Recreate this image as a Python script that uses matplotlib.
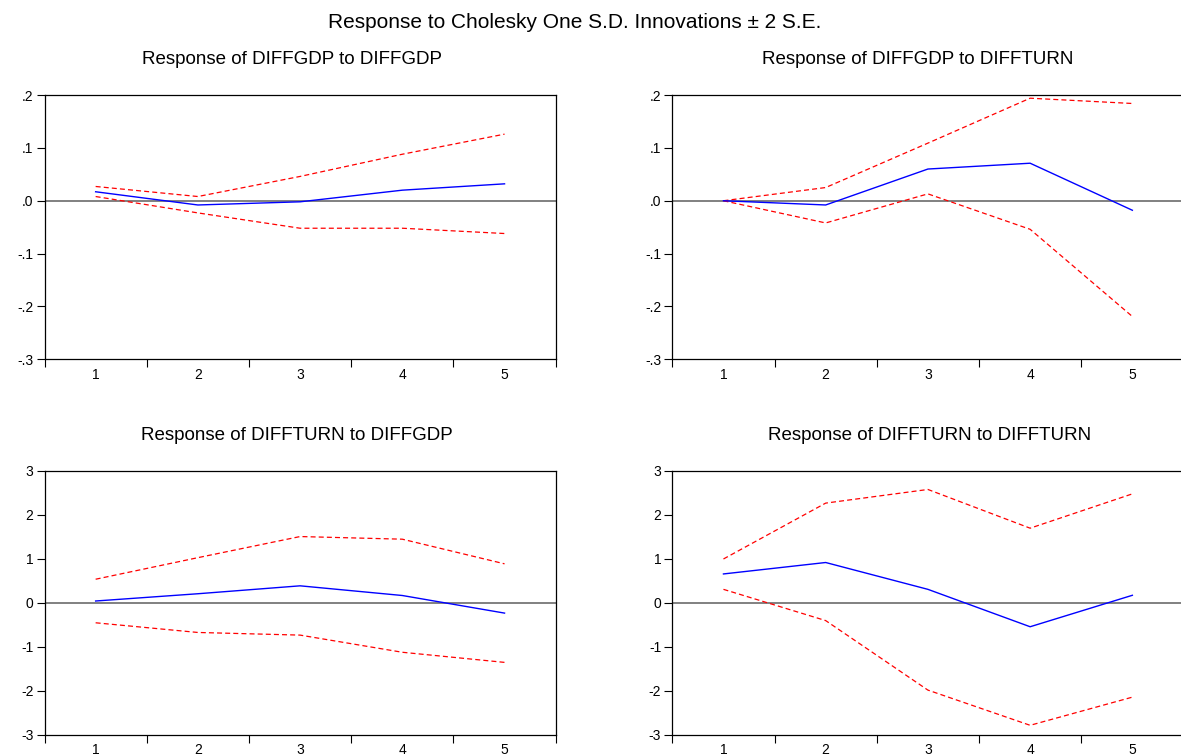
import matplotlib
matplotlib.use("Agg")
import matplotlib.pyplot as plt
from matplotlib.ticker import FixedLocator, FuncFormatter

plt.rcParams['font.family'] = ['Liberation Sans', 'DejaVu Sans']

periods = [1, 2, 3, 4, 5]

# impulse responses with +/- 2 S.E. bands
gdp_gdp = [0.017, -0.008, -0.002, 0.020, 0.032]
gdp_gdp_hi = [0.027, 0.008, 0.046, 0.088, 0.126]
gdp_gdp_lo = [0.008, -0.023, -0.052, -0.052, -0.062]

gdp_turn = [0.000, -0.008, 0.060, 0.071, -0.018]
gdp_turn_hi = [0.000, 0.025, 0.109, 0.194, 0.184]
gdp_turn_lo = [0.000, -0.042, 0.013, -0.054, -0.219]

turn_gdp = [0.045, 0.21, 0.39, 0.17, -0.23]
turn_gdp_hi = [0.54, 1.03, 1.51, 1.45, 0.89]
turn_gdp_lo = [-0.45, -0.67, -0.73, -1.12, -1.35]

turn_turn = [0.66, 0.92, 0.31, -0.54, 0.175]
turn_turn_hi = [1.00, 2.27, 2.58, 1.70, 2.48]
turn_turn_lo = [0.31, -0.40, -1.98, -2.78, -2.14]

titles = ["Response of DIFFGDP to DIFFGDP", "Response of DIFFGDP to DIFFTURN",
          "Response of DIFFTURN to DIFFGDP", "Response of DIFFTURN to DIFFTURN"]

gdp_ticks = [0.2, 0.1, 0.0, -0.1, -0.2, -0.3]
gdp_labels = [".2", ".1", ".0", "-.1", "-.2", "-.3"]
turn_ticks = [3, 2, 1, 0, -1, -2, -3]
turn_labels = ["3", "2", "1", "0", "-1", "-2", "-3"]

panels = [
    (gdp_gdp, gdp_gdp_hi, gdp_gdp_lo, gdp_ticks, gdp_labels, (-0.3, 0.2)),
    (gdp_turn, gdp_turn_hi, gdp_turn_lo, gdp_ticks, gdp_labels, (-0.3, 0.2)),
    (turn_gdp, turn_gdp_hi, turn_gdp_lo, turn_ticks, turn_labels, (-3, 3)),
    (turn_turn, turn_turn_hi, turn_turn_lo, turn_ticks, turn_labels, (-3, 3)),
]

rects = [
    [0.0377, 0.5247, 0.4328, 0.3496],
    [0.5693, 0.5247, 0.4328, 0.3496],
    [0.0377, 0.0278, 0.4328, 0.3492],
    [0.5693, 0.0278, 0.4328, 0.3492],
]
title_pos = [(0.247, 0.921), (0.777, 0.921), (0.251, 0.4235), (0.787, 0.4235)]

fig = plt.figure(figsize=(11.81, 7.56), dpi=100)
fig.text(0.487, 0.9696, "Response to Cholesky One S.D. Innovations \u00b1 2 S.E.",
         ha='center', va='center', fontsize=15)

for rect, (mid, hi, lo, yt, yl, lim), title, tp in zip(rects, panels, titles, title_pos):
    ax = fig.add_axes(rect)
    ax.axhline(0, color='#808080', lw=1.4, zorder=1)
    ax.plot(periods, hi, color='red', lw=0.9, ls=(0, (4, 2.5)), zorder=2)
    ax.plot(periods, lo, color='red', lw=0.9, ls=(0, (4, 2.5)), zorder=2)
    ax.plot(periods, mid, color='blue', lw=1.0, zorder=3)
    ax.set_xlim(0.5, 5.5)
    ax.set_ylim(*lim)
    # tick marks between periods, labels on the periods
    ax.xaxis.set_major_locator(FixedLocator([0.5, 1.5, 2.5, 3.5, 4.5, 5.5]))
    ax.xaxis.set_major_formatter(FuncFormatter(lambda v, p: ""))
    ax.xaxis.set_minor_locator(FixedLocator(periods))
    ax.xaxis.set_minor_formatter(FuncFormatter(lambda v, p: "%d" % round(v)))
    ax.tick_params(axis='x', which='major', direction='out', length=5.5, width=0.8)
    ax.tick_params(axis='x', which='minor', length=0, pad=6, labelsize=10)
    ax.set_yticks(yt)
    ax.set_yticklabels(yl)
    ax.tick_params(axis='y', direction='out', length=6, width=0.8, pad=2, labelsize=10)
    for s in ax.spines.values():
        s.set_linewidth(0.9)
        s.set_color('black')
    fig.text(tp[0], tp[1], title, ha='center', va='center', fontsize=13.5)

fig.savefig("out.png", dpi=100)
